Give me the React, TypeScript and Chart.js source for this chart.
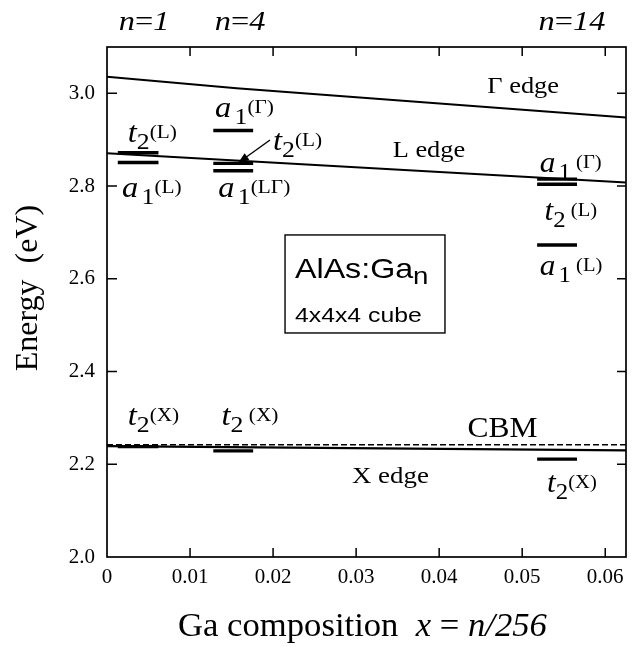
import React, { useEffect, useRef } from "react";
import { Chart, registerables } from "chart.js";

Chart.register(...registerables);

// ---------- data ----------
const xTickValues = [0, 0.01, 0.02, 0.03, 0.04, 0.05, 0.06];
const xTickLabels = ["0", "0.01", "0.02", "0.03", "0.04", "0.05", "0.06"];
const yTickValues = [2.0, 2.2, 2.4, 2.6, 2.8, 3.0];
const yTickLabels = ["2.0", "2.2", "2.4", "2.6", "2.8", "3.0"];

// band edges (x = Ga composition, y = energy eV)
const gammaEdgeX = [0, 0.0156, 0.0625];
const gammaEdgeY = [3.036, 3.011, 2.948];
const lEdgeX = [0, 0.0625];
const lEdgeY = [2.871, 2.808];
const xEdgeX = [0, 0.0625];
const xEdgeY = [2.239, 2.230];
const cbmX = [0, 0.0625];
const cbmY = [2.242, 2.242];

// impurity levels for n = 1, 4, 14
const compositions = ["n=1", "n=4", "n=14"];
const compositionLabelX = [0.00446, 0.01602, 0.056];
const levelStart = [0.0013, 0.0128, 0.0518];
const levelEnd = [0.0062, 0.0176, 0.0566];
const levelsN1 = [2.872, 2.851, 2.238];
const levelsN4 = [2.92, 2.849, 2.833, 2.229];
const levelsN14 = [2.815, 2.804, 2.673, 2.211];
const allLevels = [levelsN1, levelsN4, levelsN14];

// ---------- styling / annotation config ----------
const SERIF = "'Liberation Serif', 'Times New Roman', serif";
const SANS = "'Liberation Sans', Arial, sans-serif";

type Run = { t: string; font: string; dy?: number; dx?: number };

function lvl(letter: string, sub: string, paren: string, gap = false): Run[] {
  return [
    { t: letter, font: `italic 29px ${SERIF}` },
    { t: sub, font: `23px ${SERIF}`, dy: 7, dx: letter === "a" ? 3 : 0 },
    { t: (gap ? " " : "") + paren, font: `19px ${SERIF}`, dy: -4 },
  ];
}

const textNotes: { x: number; y: number; runs: Run[]; sx: number }[] = [
  { x: 0.0458, y: 3.001, runs: [{ t: "Γ edge", font: `24px ${SERIF}` }], sx: 1.1 },
  { x: 0.0344, y: 2.863, runs: [{ t: "L edge", font: `24px ${SERIF}` }], sx: 1.1 },
  { x: 0.0295, y: 2.16, runs: [{ t: "X edge", font: `24px ${SERIF}` }], sx: 1.12 },
  { x: 0.0434, y: 2.259, runs: [{ t: "CBM", font: `30px ${SERIF}` }], sx: 1.05 },
  { x: 0.0025, y: 2.895, runs: lvl("t", "2", "(L)"), sx: 1.12 },
  { x: 0.0018, y: 2.777, runs: lvl("a", "1", "(L)"), sx: 1.12 },
  { x: 0.013, y: 2.949, runs: lvl("a", "1", "(Γ)"), sx: 1.12 },
  { x: 0.02, y: 2.878, runs: lvl("t", "2", "(L)"), sx: 1.12 },
  { x: 0.0134, y: 2.777, runs: lvl("a", "1", "(LΓ)"), sx: 1.12 },
  { x: 0.0521, y: 2.83, runs: lvl("a", "1", "(Γ)", true), sx: 1.08 },
  { x: 0.0527, y: 2.727, runs: lvl("t", "2", "(L)", true), sx: 1.08 },
  { x: 0.0521, y: 2.608, runs: lvl("a", "1", "(L)", true), sx: 1.08 },
  { x: 0.0025, y: 2.285, runs: lvl("t", "2", "(X)"), sx: 1.12 },
  { x: 0.0138, y: 2.285, runs: lvl("t", "2", "(X)", true), sx: 1.12 },
  { x: 0.053, y: 2.14, runs: lvl("t", "2", "(X)"), sx: 1.08 },
  {
    x: 0.02264,
    y: 2.6018,
    runs: [
      { t: "AlAs:Ga", font: `28px ${SANS}` },
      { t: "n", font: `24px ${SANS}`, dy: 6 },
    ],
    sx: 1.15,
  },
  { x: 0.02264, y: 2.5069, runs: [{ t: "4x4x4 cube", font: `21px ${SANS}` }], sx: 1.18 },
];

const boxX = [0.02144, 0.0407];
const boxY = [2.6946, 2.4832];
const arrowTail = { x: 0.01963, y: 2.8995 };
const arrowTip = { x: 0.01578, y: 2.8499 };

function runsWidth(ctx: CanvasRenderingContext2D, runs: Run[]) {
  let w = 0;
  for (const r of runs) {
    ctx.font = r.font;
    w += ctx.measureText(r.t).width + (r.dx || 0);
  }
  return w;
}

function drawRuns(
  ctx: CanvasRenderingContext2D,
  x: number,
  y: number,
  runs: Run[],
  sx: number,
  center = false
) {
  ctx.save();
  ctx.translate(x, y);
  ctx.scale(sx, 1);
  ctx.textAlign = "left";
  ctx.textBaseline = "alphabetic";
  ctx.fillStyle = "#000";
  let cx = center ? -runsWidth(ctx, runs) / 2 : 0;
  for (const r of runs) {
    ctx.font = r.font;
    cx += r.dx || 0;
    ctx.fillText(r.t, cx, r.dy || 0);
    cx += ctx.measureText(r.t).width;
  }
  ctx.restore();
}

const framePlugin = {
  id: "frameAndNotes",
  afterDraw(chart: any) {
    const ctx: CanvasRenderingContext2D = chart.ctx;
    const { left, right, top, bottom } = chart.chartArea;
    const xs = chart.scales.x;
    const ys = chart.scales.y;
    ctx.save();
    ctx.strokeStyle = "#000";
    ctx.lineWidth = 1.7;
    ctx.strokeRect(left, top, right - left, bottom - top);
    // inward ticks
    ctx.lineWidth = 1.5;
    ctx.beginPath();
    for (const v of xTickValues) {
      if (v === 0) continue;
      const px = xs.getPixelForValue(v);
      ctx.moveTo(px, bottom);
      ctx.lineTo(px, bottom - 9);
      ctx.moveTo(px, top);
      ctx.lineTo(px, top + 9);
    }
    for (const v of yTickValues) {
      const py = ys.getPixelForValue(v);
      if (v !== 2.0) {
        ctx.moveTo(left, py);
        ctx.lineTo(left + 10, py);
        ctx.moveTo(right, py);
        ctx.lineTo(right - 9, py);
      }
    }
    ctx.stroke();

    // legend box
    const bx0 = xs.getPixelForValue(boxX[0]);
    const bx1 = xs.getPixelForValue(boxX[1]);
    const by0 = ys.getPixelForValue(boxY[0]);
    const by1 = ys.getPixelForValue(boxY[1]);
    ctx.lineWidth = 1.4;
    ctx.strokeRect(bx0, by0, bx1 - bx0, by1 - by0);

    // arrow
    const tx = xs.getPixelForValue(arrowTail.x);
    const ty = ys.getPixelForValue(arrowTail.y);
    const hx = xs.getPixelForValue(arrowTip.x);
    const hy = ys.getPixelForValue(arrowTip.y);
    const ang = Math.atan2(hy - ty, hx - tx);
    ctx.lineWidth = 1.4;
    ctx.beginPath();
    ctx.moveTo(tx, ty);
    ctx.lineTo(hx - 6 * Math.cos(ang), hy - 6 * Math.sin(ang));
    ctx.stroke();
    ctx.beginPath();
    ctx.moveTo(hx, hy);
    ctx.lineTo(hx - 11 * Math.cos(ang) + 4 * Math.sin(ang), hy - 11 * Math.sin(ang) - 4 * Math.cos(ang));
    ctx.lineTo(hx - 11 * Math.cos(ang) - 4 * Math.sin(ang), hy - 11 * Math.sin(ang) + 4 * Math.cos(ang));
    ctx.closePath();
    ctx.fillStyle = "#000";
    ctx.fill();

    // text notes
    for (const n of textNotes) {
      drawRuns(ctx, xs.getPixelForValue(n.x), ys.getPixelForValue(n.y), n.runs, n.sx);
    }

    // composition labels on top
    compositions.forEach((c, i) => {
      const m = c.split("=");
      drawRuns(
        ctx,
        xs.getPixelForValue(compositionLabelX[i]),
        top - 17,
        [
          { t: m[0], font: `italic 27px ${SERIF}` },
          { t: "=", font: `27px ${SERIF}` },
          { t: m[1], font: `italic 27px ${SERIF}` },
        ],
        1.2,
        true
      );
    });

    // axis titles
    drawRuns(
      ctx,
      (left + right) / 2 - 4,
      bottom + 79,
      [
        { t: "Ga composition  ", font: `33px ${SERIF}` },
        { t: "x", font: `italic 33px ${SERIF}` },
        { t: " = ", font: `33px ${SERIF}` },
        { t: "n/256", font: `italic 33px ${SERIF}` },
      ],
      1.05,
      true
    );
    ctx.save();
    ctx.translate(left - 78, (top + bottom) / 2 - 14);
    ctx.rotate(-Math.PI / 2);
    ctx.font = `32px ${SERIF}`;
    ctx.fillStyle = "#000";
    ctx.textAlign = "center";
    ctx.textBaseline = "middle";
    ctx.fillText("Energy  (eV)", 0, 0);
    ctx.restore();

    ctx.restore();
  },
};

function lineDs(xs: number[], ys: number[], width: number, dash: number[] = []) {
  return {
    data: xs.map((x, i) => ({ x, y: ys[i] })),
    showLine: true,
    borderColor: "#000",
    backgroundColor: "#000",
    borderWidth: width,
    borderDash: dash,
    pointRadius: 0,
    borderCapStyle: "butt",
    fill: false,
    tension: 0,
  };
}

export default function App() {
  const ref = useRef<HTMLCanvasElement>(null);
  useEffect(() => {
    const datasets: any[] = [
      lineDs(gammaEdgeX, gammaEdgeY, 2),
      lineDs(lEdgeX, lEdgeY, 2),
      lineDs(xEdgeX, xEdgeY, 2.2),
      lineDs(cbmX, cbmY, 1.5, [6, 3]),
    ];
    allLevels.forEach((levels, i) => {
      levels.forEach((e) => {
        datasets.push(lineDs([levelStart[i], levelEnd[i]], [e, e], 3.4));
      });
    });
    const chart = new Chart(ref.current as HTMLCanvasElement, {
      type: "scatter",
      data: { datasets },
      options: {
        responsive: false,
        maintainAspectRatio: false,
        animation: false,
        events: [],
        layout: { padding: { top: 47, right: 9, left: 0, bottom: 0 } },
        plugins: {
          legend: { display: false },
          tooltip: { enabled: false },
          title: { display: false },
        },
        scales: {
          x: {
            type: "linear",
            min: 0,
            max: 0.0625,
            afterFit: (s: any) => {
              s.height = 90;
            },
            grid: { display: false, drawTicks: false },
            border: { display: false },
            ticks: {
              stepSize: 0.01,
              includeBounds: false,
              autoSkip: false,
              maxRotation: 0,
              padding: 8,
              color: "#000",
              font: { family: SERIF, size: 21 },
              callback: (v: any) => {
                const i = xTickValues.findIndex((t) => Math.abs(t - Number(v)) < 1e-6);
                return i >= 0 ? xTickLabels[i] : "";
              },
            },
          },
          y: {
            type: "linear",
            min: 2.0,
            max: 3.1,
            afterFit: (s: any) => {
              s.width = 107;
            },
            grid: { display: false, drawTicks: false },
            border: { display: false },
            ticks: {
              stepSize: 0.2,
              includeBounds: false,
              autoSkip: false,
              padding: 12,
              color: "#000",
              font: { family: SERIF, size: 21 },
              callback: (v: any) => {
                const i = yTickValues.findIndex((t) => Math.abs(t - Number(v)) < 1e-6);
                return i >= 0 ? yTickLabels[i] : "";
              },
            },
          },
        },
      } as any,
      plugins: [framePlugin as any],
    });
    return () => chart.destroy();
  }, []);
  return (
    <div style={{ position: "absolute", left: 0, top: 0, width: 635, height: 647, background: "#fff" }}>
      <canvas ref={ref} width={635} height={647} style={{ width: 635, height: 647, display: "block" }} />
    </div>
  );
}
